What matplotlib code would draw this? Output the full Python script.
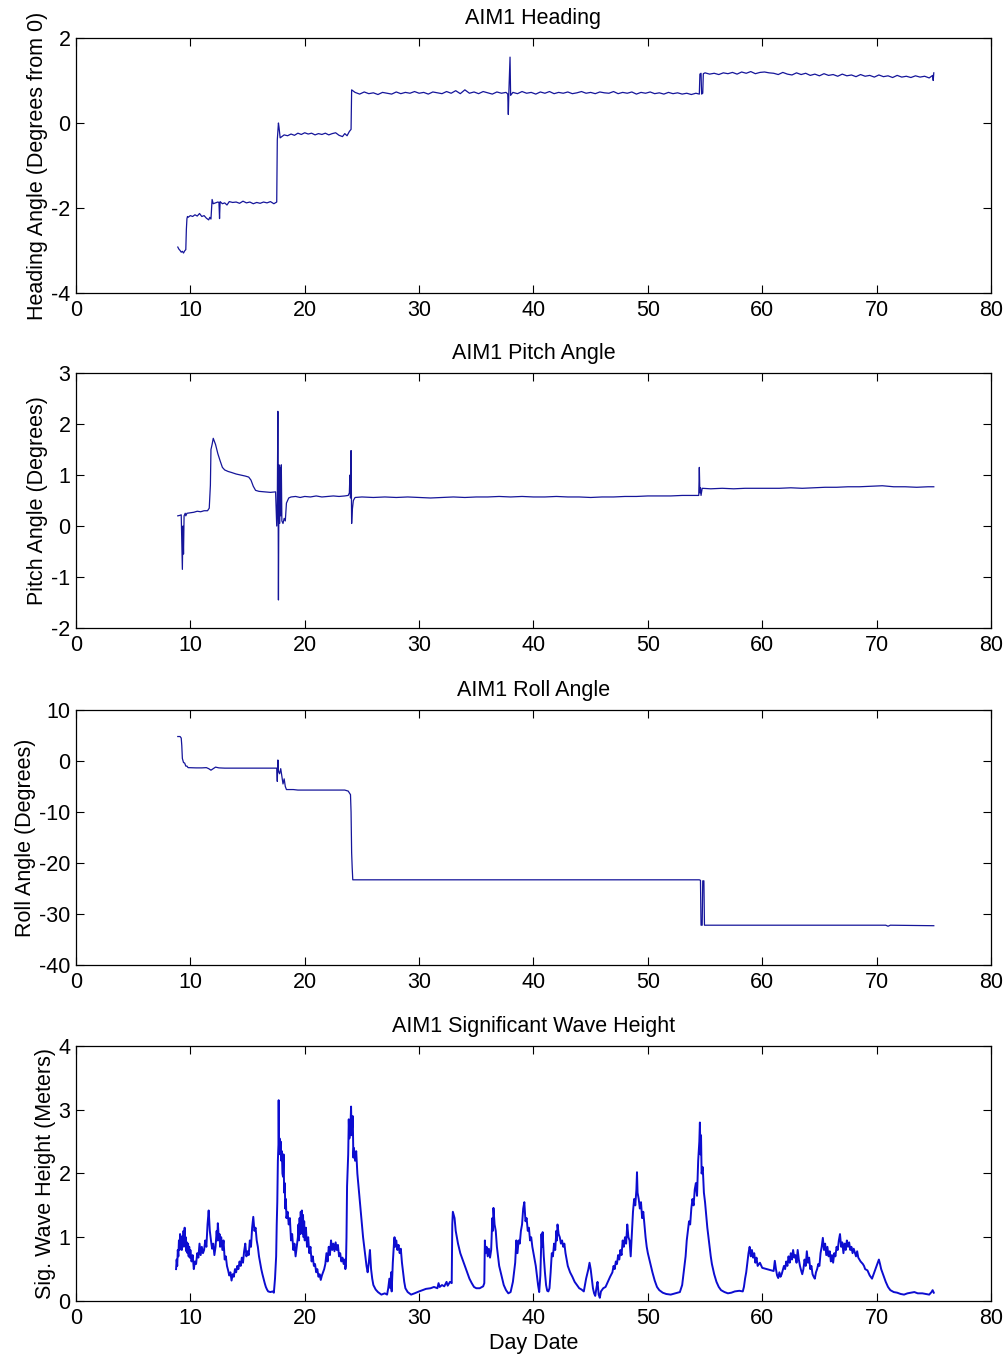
import matplotlib
matplotlib.use("Agg")
import matplotlib.pyplot as plt

plt.rcParams['font.family'] = ['Liberation Sans', 'DejaVu Sans']
plt.rcParams['axes.unicode_minus'] = False

# (day, heading degrees from 0)
heading = [
    (8.9, -2.92), (9.0, -2.97), (9.1, -3.0), (9.2, -3.04), (9.3, -3.02), (9.4, -3.06),
    (9.5, -3.01), (9.6, -2.98), (9.65, -2.5), (9.7, -2.25), (9.75, -2.2), (9.8, -2.22),
    (10.0, -2.18), (10.2, -2.2), (10.4, -2.16), (10.6, -2.19), (10.8, -2.13), (11.0, -2.2),
    (11.2, -2.18), (11.4, -2.24), (11.6, -2.28), (11.7, -2.22), (11.8, -2.26), (11.9, -1.8),
    (12.0, -1.9), (12.2, -1.88), (12.4, -1.86), (12.5, -1.87), (12.55, -2.25), (12.6, -1.85),
    (12.8, -1.9), (13.0, -1.88), (13.2, -1.93), (13.4, -1.85), (13.7, -1.87), (14.0, -1.86),
    (14.3, -1.89), (14.6, -1.84), (14.9, -1.88), (15.2, -1.86), (15.5, -1.9), (15.8, -1.87),
    (16.1, -1.89), (16.4, -1.86), (16.7, -1.88), (17.0, -1.85), (17.3, -1.9), (17.55, -1.86),
    (17.6, -0.4), (17.7, 0.0), (17.75, -0.1), (17.85, -0.35), (18.0, -0.32), (18.2, -0.28),
    (18.5, -0.3), (18.8, -0.26), (19.1, -0.29), (19.4, -0.24), (19.7, -0.27), (20.0, -0.23),
    (20.3, -0.26), (20.6, -0.24), (20.9, -0.28), (21.2, -0.25), (21.5, -0.27), (21.8, -0.24),
    (22.1, -0.28), (22.4, -0.25), (22.7, -0.23), (23.0, -0.29), (23.3, -0.32), (23.5, -0.25),
    (23.7, -0.3), (23.9, -0.2), (24.05, -0.15), (24.1, 0.78), (24.4, 0.72), (24.8, 0.68),
    (25.2, 0.73), (25.6, 0.69), (26.0, 0.71), (26.4, 0.67), (26.8, 0.72), (27.2, 0.7),
    (27.6, 0.68), (28.0, 0.73), (28.4, 0.69), (28.8, 0.72), (29.2, 0.7), (29.6, 0.74),
    (30.0, 0.7), (30.4, 0.72), (30.8, 0.68), (31.2, 0.73), (31.6, 0.71), (32.0, 0.69),
    (32.4, 0.74), (32.8, 0.7), (33.2, 0.76), (33.6, 0.69), (34.0, 0.78), (34.4, 0.7),
    (34.8, 0.73), (35.2, 0.69), (35.6, 0.74), (36.0, 0.71), (36.4, 0.68), (36.8, 0.73),
    (37.2, 0.7), (37.6, 0.72), (37.75, 0.68), (37.8, 0.2), (37.85, 0.75), (37.95, 1.55),
    (38.0, 0.65), (38.2, 0.72), (38.6, 0.69), (39.0, 0.74), (39.4, 0.7), (39.8, 0.72),
    (40.2, 0.68), (40.6, 0.73), (41.0, 0.7), (41.4, 0.74), (41.8, 0.69), (42.2, 0.72),
    (42.6, 0.7), (43.0, 0.73), (43.4, 0.69), (43.8, 0.71), (44.2, 0.74), (44.6, 0.7),
    (45.0, 0.72), (45.4, 0.69), (45.8, 0.73), (46.2, 0.71), (46.6, 0.7), (47.0, 0.74),
    (47.4, 0.69), (47.8, 0.72), (48.2, 0.7), (48.6, 0.73), (49.0, 0.68), (49.4, 0.72),
    (49.8, 0.7), (50.2, 0.73), (50.6, 0.69), (51.0, 0.71), (51.4, 0.68), (51.8, 0.72),
    (52.2, 0.69), (52.6, 0.71), (53.0, 0.68), (53.4, 0.7), (53.8, 0.67), (54.2, 0.7),
    (54.5, 0.68), (54.55, 1.15), (54.65, 1.17), (54.7, 0.68), (54.8, 0.7), (54.85, 1.16),
    (55.0, 1.18), (55.4, 1.15), (55.8, 1.17), (56.2, 1.14), (56.6, 1.18), (57.0, 1.16),
    (57.4, 1.19), (57.8, 1.15), (58.2, 1.2), (58.6, 1.17), (59.0, 1.21), (59.4, 1.16),
    (59.8, 1.19), (60.2, 1.2), (60.6, 1.18), (61.0, 1.17), (61.4, 1.14), (61.8, 1.19),
    (62.2, 1.15), (62.6, 1.13), (63.0, 1.18), (63.4, 1.14), (63.8, 1.17), (64.2, 1.12),
    (64.6, 1.15), (65.0, 1.11), (65.4, 1.16), (65.8, 1.12), (66.2, 1.14), (66.6, 1.1),
    (67.0, 1.15), (67.4, 1.11), (67.8, 1.13), (68.2, 1.09), (68.6, 1.14), (69.0, 1.1),
    (69.4, 1.12), (69.8, 1.08), (70.2, 1.13), (70.6, 1.09), (71.0, 1.11), (71.4, 1.07),
    (71.8, 1.12), (72.2, 1.08), (72.6, 1.1), (73.0, 1.07), (73.4, 1.11), (73.8, 1.08),
    (74.2, 1.1), (74.6, 1.06), (74.9, 1.12), (74.95, 1.0), (75.0, 1.18),
]

# (day, pitch degrees)
pitch = [
    (8.9, 0.2), (9.1, 0.21), (9.2, 0.22), (9.25, -0.3), (9.3, -0.85), (9.35, 0.0),
    (9.4, -0.55), (9.45, 0.2), (9.55, 0.25), (9.6, 0.2), (9.7, 0.25), (10.0, 0.26),
    (10.3, 0.27), (10.6, 0.29), (10.9, 0.28), (11.2, 0.3), (11.5, 0.3), (11.65, 0.35),
    (11.75, 0.8), (11.8, 1.5), (11.9, 1.6), (12.0, 1.72), (12.2, 1.6), (12.4, 1.42),
    (12.6, 1.28), (12.8, 1.15), (13.0, 1.1), (13.3, 1.07), (13.6, 1.05), (14.0, 1.02),
    (14.4, 1.0), (14.8, 0.98), (15.1, 0.96), (15.3, 0.9), (15.5, 0.78), (15.7, 0.7),
    (16.0, 0.68), (16.5, 0.67), (17.0, 0.66), (17.45, 0.67), (17.55, 0.0), (17.6, 0.4),
    (17.65, 2.25), (17.7, -1.45), (17.75, 1.2), (17.8, 0.05), (17.85, 1.15), (17.9, 0.2),
    (17.95, 1.2), (18.0, 0.1), (18.1, 0.05), (18.2, 0.15), (18.3, 0.1), (18.4, 0.45),
    (18.6, 0.55), (18.8, 0.57), (19.2, 0.58), (19.6, 0.56), (20.0, 0.58), (20.5, 0.57),
    (21.0, 0.59), (21.5, 0.57), (22.0, 0.58), (22.5, 0.59), (23.0, 0.58), (23.5, 0.59),
    (23.8, 0.6), (23.9, 0.65), (23.95, 1.0), (24.0, 0.55), (24.05, 1.48), (24.1, 0.05),
    (24.15, 0.3), (24.25, 0.5), (24.4, 0.56), (25.0, 0.57), (26.0, 0.56), (27.0, 0.57),
    (28.0, 0.56), (29.0, 0.57), (30.0, 0.56), (31.0, 0.55), (32.0, 0.56), (33.0, 0.57),
    (34.0, 0.56), (35.0, 0.57), (36.0, 0.57), (37.0, 0.58), (38.0, 0.57), (39.0, 0.58),
    (40.0, 0.57), (41.0, 0.57), (42.0, 0.58), (43.0, 0.57), (44.0, 0.57), (45.0, 0.56),
    (46.0, 0.57), (47.0, 0.57), (48.0, 0.58), (49.0, 0.58), (50.0, 0.59), (51.0, 0.59),
    (52.0, 0.59), (53.0, 0.6), (54.0, 0.6), (54.45, 0.6), (54.5, 1.15), (54.55, 0.65),
    (54.6, 0.75), (54.65, 0.6), (54.75, 0.74), (55.5, 0.73), (56.5, 0.74), (57.5, 0.73),
    (58.5, 0.74), (59.5, 0.74), (60.5, 0.74), (61.5, 0.74), (62.5, 0.75), (63.5, 0.74),
    (64.5, 0.75), (65.5, 0.76), (66.5, 0.76), (67.5, 0.77), (68.5, 0.77), (69.5, 0.78),
    (70.5, 0.79), (71.5, 0.77), (72.5, 0.77), (73.5, 0.76), (74.5, 0.77), (75.0, 0.77),
]

# (day, roll degrees)
roll = [
    (8.9, 4.8), (9.1, 4.8), (9.2, 4.5), (9.25, 3.0), (9.3, 0.5), (9.4, -0.3), (9.5, -0.4),
    (9.6, -1.0), (9.7, -1.0), (9.8, -1.3), (10.5, -1.35), (11.0, -1.35), (11.4, -1.3),
    (11.6, -1.5), (11.8, -1.8), (12.0, -1.5), (12.2, -1.2), (12.5, -1.35), (13.0, -1.4),
    (15.0, -1.4), (17.55, -1.4), (17.6, -4.0), (17.65, 0.2), (17.7, -2.0), (17.8, -2.5),
    (17.9, -1.5), (18.0, -3.0), (18.1, -4.5), (18.2, -3.5), (18.3, -5.0), (18.4, -5.6),
    (19.0, -5.6), (19.4, -5.7), (20.0, -5.7), (23.5, -5.7), (23.8, -5.9), (24.0, -6.6),
    (24.05, -10.0), (24.1, -18.0), (24.15, -21.0), (24.2, -23.3), (54.5, -23.3),
    (54.6, -23.4), (54.65, -32.2), (54.75, -32.2), (54.8, -23.5), (54.9, -23.5),
    (54.95, -32.2), (70.8, -32.2), (71.0, -32.4), (71.2, -32.2), (75.0, -32.3),
]

# (day, significant wave height m)
wave = [
    (8.75, 0.5), (8.8, 0.65), (8.85, 0.55), (8.9, 0.8), (8.95, 0.7), (9.0, 0.95), (9.05, 0.8),
    (9.1, 1.05), (9.15, 0.85), (9.2, 0.95), (9.25, 0.8), (9.3, 1.02), (9.35, 0.85), (9.4, 1.1),
    (9.45, 0.9), (9.5, 1.15), (9.55, 0.85), (9.6, 1.0), (9.65, 0.78), (9.7, 0.92), (9.75, 0.75),
    (9.8, 0.9), (9.85, 0.7), (9.9, 0.85), (9.95, 0.68), (10.0, 0.8), (10.1, 0.62), (10.2, 0.72),
    (10.3, 0.5), (10.4, 0.62), (10.5, 0.58), (10.6, 0.75), (10.7, 0.68), (10.8, 0.9), (10.9, 0.72),
    (11.0, 0.85), (11.1, 0.75), (11.2, 0.8), (11.3, 0.95), (11.4, 0.85), (11.5, 1.2), (11.6, 1.42),
    (11.7, 1.1), (11.8, 0.95), (11.9, 0.82), (12.0, 0.9), (12.1, 0.72), (12.2, 0.85), (12.3, 1.1),
    (12.35, 0.95), (12.4, 1.22), (12.5, 0.95), (12.55, 1.05), (12.6, 0.85), (12.7, 1.0), (12.8, 0.8),
    (12.9, 0.95), (13.0, 0.65), (13.1, 0.7), (13.2, 0.55), (13.3, 0.48), (13.4, 0.4), (13.5, 0.45),
    (13.6, 0.32), (13.7, 0.42), (13.8, 0.38), (13.9, 0.5), (14.0, 0.45), (14.1, 0.55), (14.2, 0.5),
    (14.3, 0.62), (14.4, 0.55), (14.5, 0.68), (14.6, 0.6), (14.7, 0.78), (14.8, 0.9), (14.9, 0.7),
    (15.0, 0.78), (15.1, 0.72), (15.2, 0.95), (15.3, 0.85), (15.4, 1.15), (15.5, 1.32), (15.6, 1.1),
    (15.7, 1.15), (15.8, 0.95), (15.9, 0.85), (16.0, 0.7), (16.1, 0.6), (16.2, 0.5), (16.3, 0.42),
    (16.4, 0.35), (16.5, 0.28), (16.6, 0.22), (16.7, 0.18), (16.8, 0.15), (17.0, 0.14), (17.2, 0.15),
    (17.3, 0.13), (17.4, 0.35), (17.5, 0.7), (17.55, 1.2), (17.6, 1.55), (17.65, 2.2), (17.7, 2.45),
    (17.72, 3.15), (17.75, 2.4), (17.8, 2.55), (17.85, 2.3), (17.9, 2.5), (17.95, 2.2), (18.0, 2.35),
    (18.05, 2.0), (18.1, 1.95), (18.15, 2.3), (18.2, 1.7), (18.25, 1.85), (18.3, 1.45), (18.35, 1.6),
    (18.4, 1.3), (18.5, 1.4), (18.6, 1.2), (18.7, 1.3), (18.8, 0.95), (18.9, 1.05), (19.0, 0.8),
    (19.1, 0.9), (19.2, 0.7), (19.3, 0.85), (19.4, 1.0), (19.45, 1.2), (19.5, 0.95), (19.55, 1.3),
    (19.6, 1.05), (19.65, 1.4), (19.7, 1.1), (19.75, 1.42), (19.8, 1.05), (19.85, 1.35), (19.9, 1.0),
    (19.95, 1.25), (20.0, 0.95), (20.1, 1.15), (20.2, 0.85), (20.3, 1.0), (20.4, 0.75), (20.5, 0.85),
    (20.6, 0.62), (20.7, 0.7), (20.8, 0.55), (20.9, 0.58), (21.0, 0.45), (21.1, 0.5), (21.2, 0.38),
    (21.3, 0.42), (21.4, 0.33), (21.5, 0.4), (21.6, 0.45), (21.7, 0.5), (21.8, 0.58), (21.9, 0.75),
    (22.0, 0.62), (22.1, 0.85), (22.2, 0.72), (22.3, 0.95), (22.4, 0.8), (22.5, 0.9), (22.6, 0.78),
    (22.7, 0.92), (22.8, 0.8), (22.9, 0.88), (23.0, 0.7), (23.1, 0.75), (23.2, 0.62), (23.3, 0.68),
    (23.4, 0.58), (23.5, 0.65), (23.55, 0.5), (23.6, 0.55), (23.65, 1.0), (23.7, 1.8), (23.8, 2.3),
    (23.85, 2.85), (23.9, 2.55), (24.0, 2.75), (24.05, 3.05), (24.1, 2.6), (24.2, 2.9), (24.25, 2.25),
    (24.3, 2.4), (24.4, 2.2), (24.5, 2.35), (24.6, 2.0), (24.7, 1.8), (24.8, 1.6), (24.9, 1.4),
    (25.0, 1.2), (25.1, 1.0), (25.2, 0.85), (25.3, 0.7), (25.4, 0.55), (25.5, 0.45), (25.6, 0.6),
    (25.7, 0.8), (25.8, 0.5), (25.9, 0.35), (26.0, 0.25), (26.2, 0.18), (26.4, 0.14), (26.7, 0.1),
    (27.0, 0.12), (27.2, 0.1), (27.3, 0.2), (27.4, 0.35), (27.5, 0.2), (27.55, 0.45), (27.6, 0.15),
    (27.7, 0.6), (27.8, 0.9), (27.85, 1.0), (27.9, 0.85), (28.0, 0.95), (28.1, 0.8), (28.2, 0.88),
    (28.3, 0.75), (28.4, 0.82), (28.5, 0.6), (28.6, 0.45), (28.7, 0.3), (28.8, 0.2), (29.0, 0.14),
    (29.3, 0.1), (29.6, 0.12), (30.0, 0.15), (30.3, 0.17), (30.6, 0.19), (31.0, 0.2), (31.3, 0.22),
    (31.6, 0.2), (31.7, 0.28), (31.8, 0.22), (32.0, 0.25), (32.2, 0.23), (32.4, 0.3), (32.5, 0.24),
    (32.7, 0.3), (32.85, 0.28), (32.9, 1.2), (32.95, 1.4), (33.1, 1.3), (33.2, 1.1), (33.4, 0.9),
    (33.6, 0.75), (33.8, 0.65), (34.0, 0.55), (34.2, 0.45), (34.4, 0.35), (34.6, 0.28), (34.8, 0.22),
    (35.0, 0.2), (35.3, 0.2), (35.6, 0.23), (35.7, 0.28), (35.75, 0.95), (35.8, 0.75), (35.9, 0.85),
    (36.0, 0.7), (36.1, 0.82), (36.2, 0.68), (36.3, 0.8), (36.4, 1.3), (36.45, 1.1), (36.5, 1.46),
    (36.6, 1.2), (36.7, 1.1), (36.8, 0.85), (36.9, 0.7), (37.0, 0.55), (37.2, 0.4), (37.4, 0.25),
    (37.6, 0.17), (37.8, 0.12), (38.0, 0.14), (38.2, 0.3), (38.4, 0.6), (38.5, 0.95), (38.6, 0.75),
    (38.7, 0.95), (38.8, 0.9), (38.9, 1.1), (39.0, 1.2), (39.1, 1.45), (39.2, 1.55), (39.3, 1.25),
    (39.4, 1.3), (39.5, 1.1), (39.6, 1.15), (39.7, 0.95), (39.8, 1.0), (39.9, 0.85), (40.0, 0.75),
    (40.1, 0.65), (40.2, 0.55), (40.3, 0.4), (40.4, 0.25), (40.5, 0.14), (40.6, 0.4), (40.7, 1.05),
    (40.75, 0.85), (40.8, 1.08), (40.9, 0.7), (41.0, 0.45), (41.1, 0.25), (41.2, 0.16), (41.3, 0.15),
    (41.4, 0.2), (41.5, 0.45), (41.6, 0.75), (41.7, 0.7), (41.8, 0.9), (41.9, 0.8), (42.0, 1.1),
    (42.05, 0.95), (42.1, 1.2), (42.2, 1.05), (42.3, 1.0), (42.4, 0.9), (42.5, 0.95), (42.6, 0.85),
    (42.7, 0.9), (42.8, 0.75), (43.0, 0.55), (43.2, 0.45), (43.4, 0.38), (43.6, 0.3), (43.8, 0.25),
    (44.0, 0.2), (44.2, 0.18), (44.4, 0.15), (44.6, 0.35), (44.8, 0.5), (44.9, 0.6), (45.0, 0.5),
    (45.1, 0.35), (45.2, 0.2), (45.3, 0.12), (45.4, 0.08), (45.5, 0.2), (45.6, 0.3), (45.7, 0.1),
    (45.8, 0.05), (45.9, 0.15), (46.1, 0.2), (46.3, 0.22), (46.5, 0.3), (46.7, 0.38), (46.9, 0.45),
    (47.0, 0.55), (47.1, 0.5), (47.2, 0.62), (47.3, 0.58), (47.4, 0.72), (47.5, 0.65), (47.6, 0.8),
    (47.7, 0.72), (47.8, 0.95), (47.9, 0.85), (48.0, 1.0), (48.1, 0.9), (48.2, 1.2), (48.3, 1.0),
    (48.4, 0.95), (48.5, 0.7), (48.6, 1.05), (48.7, 1.4), (48.8, 1.6), (48.9, 1.5), (49.0, 1.75),
    (49.05, 2.02), (49.1, 1.7), (49.2, 1.6), (49.3, 1.45), (49.4, 1.55), (49.5, 1.3), (49.6, 1.4),
    (49.7, 1.2), (49.8, 1.0), (49.9, 0.85), (50.0, 0.75), (50.2, 0.6), (50.4, 0.45), (50.6, 0.32),
    (50.8, 0.22), (51.0, 0.17), (51.3, 0.13), (51.6, 0.11), (52.0, 0.1), (52.4, 0.12), (52.8, 0.14),
    (53.0, 0.25), (53.1, 0.4), (53.2, 0.55), (53.3, 0.7), (53.4, 0.95), (53.5, 1.1), (53.6, 1.25),
    (53.7, 1.2), (53.8, 1.45), (53.9, 1.6), (54.0, 1.5), (54.1, 1.75), (54.2, 1.85), (54.3, 1.65),
    (54.4, 2.2), (54.5, 2.5), (54.55, 2.8), (54.6, 2.3), (54.65, 2.6), (54.7, 2.0), (54.8, 2.1),
    (54.9, 1.7), (55.0, 1.55), (55.1, 1.35), (55.2, 1.15), (55.3, 1.0), (55.4, 0.85), (55.5, 0.7),
    (55.6, 0.58), (55.8, 0.42), (56.0, 0.3), (56.2, 0.22), (56.4, 0.17), (56.7, 0.14), (57.0, 0.12),
    (57.3, 0.13), (57.6, 0.15), (58.0, 0.16), (58.3, 0.15), (58.4, 0.22), (58.5, 0.35), (58.6, 0.45),
    (58.7, 0.6), (58.8, 0.75), (58.9, 0.85), (59.0, 0.7), (59.1, 0.8), (59.2, 0.68), (59.3, 0.75),
    (59.4, 0.6), (59.5, 0.68), (59.6, 0.55), (59.8, 0.6), (60.0, 0.52), (61.0, 0.47), (61.1, 0.63),
    (61.2, 0.5), (61.3, 0.4), (61.4, 0.36), (61.5, 0.45), (61.6, 0.38), (61.7, 0.42), (61.9, 0.55),
    (62.0, 0.5), (62.1, 0.62), (62.2, 0.55), (62.3, 0.7), (62.4, 0.6), (62.5, 0.75), (62.6, 0.65),
    (62.7, 0.8), (62.8, 0.68), (62.9, 0.72), (63.0, 0.6), (63.1, 0.8), (63.2, 0.65), (63.3, 0.55),
    (63.4, 0.48), (63.5, 0.42), (63.6, 0.5), (63.7, 0.65), (63.8, 0.55), (63.9, 0.78), (64.0, 0.6),
    (64.1, 0.68), (64.2, 0.5), (64.3, 0.55), (64.4, 0.42), (64.5, 0.38), (64.6, 0.35), (64.7, 0.45),
    (64.8, 0.5), (64.9, 0.58), (65.0, 0.55), (65.1, 0.75), (65.2, 0.85), (65.3, 0.99), (65.4, 0.8),
    (65.5, 0.9), (65.6, 0.72), (65.7, 0.85), (65.8, 0.7), (65.9, 0.78), (66.0, 0.62), (66.1, 0.72),
    (66.2, 0.6), (66.3, 0.75), (66.4, 0.7), (66.5, 0.85), (66.6, 0.8), (66.7, 0.95), (66.8, 1.05),
    (66.9, 0.85), (67.0, 0.92), (67.1, 0.75), (67.2, 0.9), (67.3, 0.8), (67.4, 0.95), (67.5, 0.85),
    (67.6, 0.92), (67.7, 0.8), (67.8, 0.85), (67.9, 0.75), (68.0, 0.82), (68.2, 0.7), (68.3, 0.78),
    (68.4, 0.68), (68.6, 0.62), (68.8, 0.58), (68.9, 0.55), (69.0, 0.5), (69.2, 0.48), (69.4, 0.4),
    (69.6, 0.35), (69.8, 0.45), (70.0, 0.55), (70.2, 0.65), (70.3, 0.58), (70.4, 0.5), (70.6, 0.4),
    (70.8, 0.3), (71.0, 0.22), (71.2, 0.17), (71.5, 0.14), (71.8, 0.13), (72.1, 0.11), (72.4, 0.1),
    (72.7, 0.12), (73.0, 0.13), (73.3, 0.14), (73.6, 0.12), (74.0, 0.12), (74.3, 0.11), (74.6, 0.1),
    (74.8, 0.14), (74.9, 0.17), (75.0, 0.13),
]

titles = ['AIM1 Heading', 'AIM1 Pitch Angle', 'AIM1 Roll Angle', 'AIM1 Significant Wave Height']
ylabels = ['Heading Angle (Degrees from 0)', 'Pitch Angle (Degrees)',
           'Roll Angle (Degrees)', 'Sig. Wave Height (Meters)']
ylims = [(-4, 2), (-2, 3), (-40, 10), (0, 4)]
yticks = [[-4, -2, 0, 2], [-2, -1, 0, 1, 2, 3], [-40, -30, -20, -10, 0, 10], [0, 1, 2, 3, 4]]
xticks = [0, 10, 20, 30, 40, 50, 60, 70, 80]
series = [heading, pitch, roll, wave]
colors = ['#15159a', '#15159a', '#15159a', '#0c0cd0']

fig = plt.figure(figsize=(10.08, 13.62), dpi=100, facecolor='white')
bottoms = [0.7849, 0.5389, 0.2915, 0.0448]
fs = 15.5

for i in range(4):
    ax = fig.add_axes([0.0754, bottoms[i], 0.9077, 0.1872])
    xs = [p[0] for p in series[i]]
    ys = [p[1] for p in series[i]]
    lw = 1.4 if i == 3 else 0.9
    ax.plot(xs, ys, color=colors[i], linewidth=lw)
    ax.set_xlim(0, 80)
    ax.set_ylim(*ylims[i])
    ax.set_xticks(xticks)
    ax.set_yticks(yticks[i])
    ax.tick_params(direction='in', top=True, right=True, length=6, width=0.8,
                   labelsize=fs)
    ax.tick_params(axis='x', pad=5)
    ax.tick_params(axis='y', pad=4)
    for s in ax.spines.values():
        s.set_linewidth(0.9)
    ax.set_title(titles[i], fontsize=fs, pad=10)
    ax.set_ylabel(ylabels[i], fontsize=fs, labelpad=2)
    if i == 3:
        ax.set_xlabel('Day Date', fontsize=fs, labelpad=3)

fig.savefig('out.png', dpi=100)
